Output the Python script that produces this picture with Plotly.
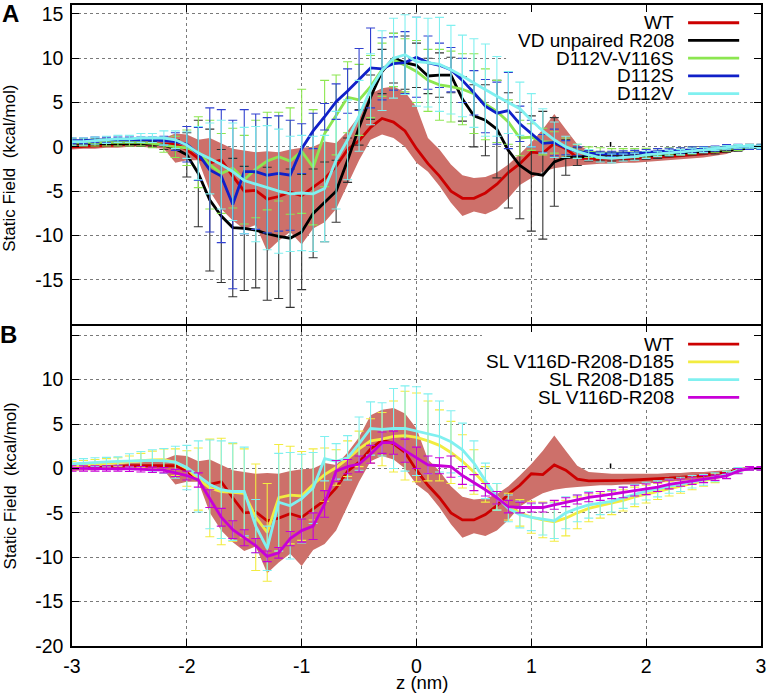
import plotly.graph_objects as go

# ---------------- data ----------------
Z = [-3.0, -2.9, -2.8, -2.7, -2.6, -2.5, -2.4, -2.3, -2.2, -2.1,
     -2.0, -1.9, -1.8, -1.7, -1.6, -1.5, -1.4, -1.3, -1.2, -1.1,
     -1.0, -0.9, -0.8, -0.7, -0.6, -0.5, -0.4, -0.3, -0.2, -0.1,
     0.0, 0.1, 0.2, 0.3, 0.4, 0.5, 0.6, 0.7, 0.8, 0.9,
     1.0, 1.1, 1.2, 1.3, 1.4, 1.5, 1.6, 1.7, 1.8, 1.9,
     2.0, 2.1, 2.2, 2.3, 2.4, 2.5, 2.6, 2.7, 2.8, 2.9, 3.0]

WT = [0.0, 0.05, 0.1, 0.1, 0.2, 0.3, 0.3, 0.35, 0.35, 0.3,
      -0.3, -1.3, -1.8, -1.5, -3.3, -5.0, -4.9, -5.9, -5.6, -5.1,
      -5.5, -4.6, -3.6, -2.2, -0.3, 0.7, 2.2, 3.2, 2.8, 1.8,
      -0.2, -1.9, -3.3, -5.0, -5.8, -5.8, -5.2, -4.2, -2.9, -1.9,
      -0.6, -0.7, 0.4, -0.2, -1.2, -1.4, -1.4, -1.4, -1.35, -1.3,
      -1.2, -1.15, -1.1, -1.0, -0.9, -0.8, -0.6, -0.5, -0.1, 0.0, 0.0]
WT_HI = [0.3, 0.3, 0.3, 0.4, 0.5, 0.6, 0.7, 0.8, 1.0, 1.5,
         1.4, 0.8, 1.0, 0.4, -0.2, -0.4, -0.6, -0.5, -0.6, -0.3,
         -0.1, 0.0, 0.6, 0.4, 1.8, 3.5, 6.0, 6.6, 6.8, 6.2,
         4.5, 1.0, -0.3, -2.0, -3.2, -3.5, -3.4, -2.9, -2.0, -0.8,
         0.5, 2.0, 3.7, 2.0, 0.3, -0.4, -0.5, -0.6, -0.6, -0.6,
         -0.6, -0.6, -0.5, -0.5, -0.4, -0.4, -0.3, -0.2, 0.0, 0.0, 0.0]
WT_LO = [-0.3, -0.2, -0.2, -0.1, -0.1, 0.0, 0.0, -0.1, -0.2, -1.8,
         -1.5, -1.5, -5.0, -7.0, -8.3, -9.3, -8.8, -11.8, -10.6, -9.6,
         -11.0, -9.2, -8.5, -7.0, -4.2, -1.5, 0.8, 1.4, 1.0, 0.0,
         -1.8, -2.8, -4.4, -6.3, -7.8, -7.3, -7.6, -7.0, -5.8, -4.3,
         -3.5, -2.8, -2.4, -2.2, -2.1, -2.0, -1.9, -1.9, -1.8, -1.8,
         -1.7, -1.6, -1.5, -1.4, -1.3, -1.2, -1.0, -0.8, -0.3, -0.1, 0.0]

# Panel A mutants
VD = [0.4, 0.4, 0.4, 0.4, 0.4, 0.4, 0.35, 0.3, 0.2, -0.2,
      -0.9, -3.0, -6.0, -7.8, -9.1, -9.2, -9.4, -9.8, -10.1, -10.3,
      -9.6, -7.5, -6.2, -5.0, -1.5, 2.2, 5.6, 8.5, 10.0, 9.5,
      9.2, 8.0, 8.1, 8.1, 5.4, 3.5, 3.0, 2.0, -0.4, -2.1,
      -3.0, -3.2, -1.7, -1.2, -1.1, -1.1, -1.1, -1.1, -1.1, -1.0,
      -1.0, -0.9, -0.8, -0.7, -0.6, -0.5, -0.5, -0.4, -0.3, -0.1, 0.0]
VD_ERR = [0.3, 0.3, 0.3, 0.3, 0.3, 0.3, 0.3, 0.3, 0.5, 1.0,
          2.5, 6.0, 8.0, 7.5, 7.8, 7.0, 6.5, 7.5, 7.0, 7.8,
          6.5, 5.0, 4.5, 3.5, 2.5, 2.0, 2.5, 2.5, 2.8, 3.0,
          2.5, 2.0, 2.5, 2.0, 2.5, 3.5, 4.0, 5.5, 6.5, 6.0,
          6.5, 7.2, 5.0, 2.0, 1.0, 0.5, 0.5, 0.5, 0.4, 0.4,
          0.4, 0.4, 0.3, 0.3, 0.3, 0.3, 0.3, 0.2, 0.2, 0.2, 0.2]

D112V_V116S = [0.5, 0.5, 0.5, 0.5, 0.5, 0.5, 0.5, 0.4, 0.2, 0.0,
               -0.1, -0.6, -2.0, -3.0, -2.4, -3.7, -2.5, -1.6, -1.1, -1.6,
               -0.5, -2.3, 1.5, 3.6, 5.6, 5.3, 6.8, 8.7, 9.8, 9.2,
               8.5, 7.5, 7.0, 6.8, 6.5, 6.0, 4.8, 4.0, 2.8, 1.0,
               1.1, 0.6, 0.5, 0.0, -0.5, -0.6, -0.7, -0.7, -0.7, -0.7,
               -0.65, -0.6, -0.5, -0.5, -0.4, -0.3, -0.3, -0.2, -0.1, 0.0, 0.0]
D112V_V116S_ERR = [0.4, 0.4, 0.4, 0.4, 0.4, 0.4, 0.4, 0.5, 0.8, 1.2,
                   2.0, 4.0, 5.0, 4.5, 4.5, 5.0, 5.5, 5.5, 5.0, 6.0,
                   7.0, 6.5, 6.0, 4.5, 4.0, 4.0, 3.5, 3.0, 3.0, 3.0,
                   3.5, 3.5, 4.0, 4.0, 4.0, 4.5, 4.0, 3.5, 2.5, 2.0,
                   1.5, 1.5, 1.2, 1.0, 0.8, 0.6, 0.6, 0.5, 0.5, 0.5,
                   0.5, 0.4, 0.4, 0.4, 0.4, 0.3, 0.3, 0.3, 0.3, 0.3, 0.3]

D112S = [0.7, 0.7, 0.8, 0.8, 0.8, 0.8, 0.8, 0.8, 0.7, 0.6,
         0.3, -0.8, -2.6, -3.3, -6.5, -2.8, -2.8, -3.2, -3.0, -3.2,
         -0.2, 1.8, 3.4, 5.1, 6.3, 7.6, 8.9, 8.8, 9.4, 9.5,
         10.1, 9.5, 9.2, 8.7, 7.5, 6.1, 4.6, 3.8, 4.1, 2.6,
         1.5, 0.4, 0.5, -0.1, -0.5, -0.7, -0.8, -0.8, -0.75, -0.7,
         -0.6, -0.5, -0.45, -0.4, -0.3, -0.25, -0.2, -0.05, 0.0, 0.0, 0.0]
D112S_ERR = [0.3, 0.3, 0.3, 0.3, 0.3, 0.3, 0.3, 0.3, 0.5, 1.0,
             2.0, 3.0, 7.0, 7.5, 9.5, 7.0, 6.5, 6.5, 6.5, 6.2,
             2.8, 2.0, 1.5, 2.0, 2.5, 3.5, 4.5, 3.5, 3.0, 3.5,
             4.5, 3.0, 2.5, 2.5, 2.5, 2.5, 3.0, 3.5, 4.3, 2.0,
             1.5, 1.0, 1.5, 0.8, 0.5, 0.3, 0.3, 0.3, 0.3, 0.3,
             0.3, 0.3, 0.3, 0.3, 0.3, 0.3, 0.3, 0.3, 0.3, 0.3, 0.3]

D112V = [0.6, 0.6, 0.7, 0.8, 0.9, 0.9, 1.0, 1.0, 1.0, 0.8,
         0.2, -0.7, -1.3, -2.0, -2.8, -3.8, -4.2, -4.6, -5.0, -5.3,
         -5.2, -5.3, -4.7, -1.5, 0.8, 3.5, 6.5, 8.6, 10.0, 10.4,
         9.6, 9.5, 9.3, 8.7, 8.0, 7.2, 6.4, 5.7, 5.0, 4.3,
         3.0, 1.8, 0.8, 0.0, -0.5, -0.9, -1.2, -1.3, -1.2, -1.1,
         -0.9, -0.8, -0.7, -0.6, -0.45, -0.35, -0.2, -0.05, 0.05, 0.05, 0.0]
D112V_ERR = [0.4, 0.4, 0.4, 0.4, 0.4, 0.4, 0.5, 0.5, 0.8, 1.0,
             1.5, 3.0, 4.0, 5.0, 5.5, 6.0, 6.5, 7.0, 7.0, 6.5,
             6.5, 6.5, 6.0, 5.5, 4.5, 4.0, 4.0, 4.5, 4.5, 4.5,
             5.0, 5.0, 5.3, 5.0, 4.6, 5.0, 5.2, 4.5, 3.5, 3.0,
             3.0, 2.5, 2.0, 1.2, 0.8, 0.6, 0.5, 0.5, 0.4, 0.4,
             0.4, 0.3, 0.3, 0.3, 0.3, 0.3, 0.2, 0.2, 0.2, 0.2, 0.2]

# Panel B mutants
SL_TRIPLE = [0.3, 0.4, 0.5, 0.6, 0.7, 0.8, 0.9, 0.95, 1.0, 0.7,
             0.0, -1.2, -2.2, -2.6, -2.7, -2.8, -5.5, -7.2, -3.3, -3.0,
             -3.1, -1.8, -0.7, 0.1, 1.1, 2.2, 3.1, 3.3, 3.6, 3.7,
             3.5, 3.1, 2.6, 1.8, 0.8, -0.4, -1.8, -3.2, -4.3, -5.0,
             -5.5, -5.8, -6.0, -5.6, -5.0, -4.5, -4.2, -3.9, -3.6, -3.2,
             -2.9, -2.6, -2.3, -2.0, -1.7, -1.4, -1.1, -0.7, -0.2, 0.0, 0.0]
SL_TRIPLE_ERR = [0.5, 0.5, 0.5, 0.5, 0.5, 0.6, 0.8, 1.0, 1.2, 1.5,
                 2.0, 3.5, 5.5, 6.0, 5.5, 5.0, 6.0, 5.5, 6.0, 5.5,
                 5.0, 4.0, 3.0, 2.0, 2.0, 2.0, 2.5, 3.0, 4.0, 5.0,
                 5.0, 4.5, 4.0, 3.5, 3.0, 2.5, 2.0, 1.5, 1.5, 1.5,
                 1.8, 2.0, 2.2, 2.0, 1.8, 1.5, 1.4, 1.3, 1.2, 1.1,
                 1.0, 0.9, 0.8, 0.8, 0.7, 0.6, 0.5, 0.4, 0.3, 0.2, 0.2]

SL_R208_D185 = [0.5, 0.6, 0.7, 0.75, 0.8, 0.85, 0.9, 0.9, 0.85, 0.7,
                0.1, -0.9, -1.8, -2.4, -2.6, -2.6, -6.5, -9.0, -3.8, -4.2,
                -3.4, -2.2, 1.1, 0.8, 1.2, 2.8, 4.5, 4.4, 4.5, 4.5,
                4.2, 3.9, 3.6, 3.0, 2.1, 0.6, -1.4, -3.2, -4.5, -5.2,
                -5.5, -5.7, -5.9, -5.0, -4.5, -4.1, -3.9, -3.7, -3.3, -2.9,
                -2.55, -2.3, -2.0, -1.8, -1.5, -1.3, -1.0, -0.7, -0.2, 0.0, 0.0]
SL_R208_D185_ERR = [0.5, 0.5, 0.5, 0.5, 0.5, 0.8, 1.0, 1.2, 1.4, 1.8,
                    2.5, 4.0, 5.0, 5.5, 5.5, 5.0, 3.0, 2.5, 5.5, 6.0,
                    5.0, 4.0, 2.5, 2.0, 2.5, 3.0, 3.0, 3.0, 4.5, 4.8,
                    5.0, 4.5, 4.0, 3.5, 3.0, 2.5, 2.0, 1.5, 1.5, 1.5,
                    1.5, 1.8, 2.0, 1.8, 1.5, 1.5, 1.3, 1.2, 1.2, 1.1,
                    1.0, 0.9, 0.8, 0.8, 0.7, 0.6, 0.5, 0.4, 0.3, 0.2, 0.2]

SL_V116D_R208 = [0.0, 0.0, 0.0, 0.0, 0.0, -0.05, -0.1, -0.15, -0.2, -0.5,
                 -0.8, -1.3, -3.4, -5.5, -6.9, -7.8, -8.7, -9.9, -9.5, -7.9,
                 -7.0, -6.5, -4.0, -0.3, 0.2, 0.5, 1.6, 2.9, 2.9, 2.0,
                 1.2, 0.4, 0.3, 0.2, -0.8, -1.6, -2.4, -3.3, -4.3, -4.4,
                 -4.4, -4.4, -4.1, -3.8, -3.5, -3.25, -3.1, -2.9, -2.7, -2.5,
                 -2.35, -2.1, -1.8, -1.6, -1.4, -1.2, -1.05, -0.85, -0.3, 0.0, 0.0]
SL_V116D_R208_ERR = [0.3, 0.3, 0.3, 0.3, 0.3, 0.3, 0.3, 0.3, 0.3, 0.4,
                     0.5, 0.8, 1.0, 1.0, 1.0, 0.9, 0.8, 0.6, 0.6, 0.8,
                     1.3, 1.5, 1.5, 1.2, 0.8, 0.9, 1.0, 1.2, 1.3, 1.3,
                     1.2, 1.0, 0.9, 1.2, 1.0, 0.9, 0.7, 0.7, 0.7, 0.6,
                     0.5, 0.5, 0.5, 0.5, 0.5, 0.5, 0.5, 0.5, 0.6, 0.6,
                     0.6, 0.5, 0.5, 0.4, 0.4, 0.4, 0.3, 0.3, 0.3, 0.2, 0.2]

# small stray error mark visible in both panels
STRAY_Z = [1.69]
STRAY_V = [0.28]
STRAY_ERR = [0.28]

Y_TICKS = [-20, -15, -10, -5, 0, 5, 10, 15]
Y_TEXT_A = ["", "-15", "-10", "-5", "0", "5", "10", "15"]
Y_TEXT_B = ["-20", "-15", "-10", "-5", "0", "5", "10", ""]
X_TICKS = [-3, -2, -1, 0, 1, 2, 3]
X_TEXT = ["-3", "-2", "-1", "0", "1", "2", "3"]

LEGEND_A = ["WT", "VD unpaired R208", "D112V-V116S", "D112S", "D112V"]
LEGEND_B = ["WT", "SL V116D-R208-D185", "SL R208-D185", "SL V116D-R208"]

# ---------------- styles ----------------
FONT = "Liberation Sans"
FS = 19.5
FS_LEG = 19
RED = "#cc0000"
BAND = "#cd706a"
BLACK = "#000000"
GREEN = "#8ce650"
BLUE = "#1020c8"
CYAN = "#80f0f0"
YELLOW = "#f2ec40"
MAGENTA = "#c800d8"
LW = 2.8

fig = go.Figure()


def add_band(xa, ya):
    fig.add_trace(go.Scatter(x=Z, y=WT_HI, mode="lines", line=dict(width=0, color=BAND),
                             xaxis=xa, yaxis=ya, hoverinfo="skip"))
    fig.add_trace(go.Scatter(x=Z, y=WT_LO, mode="lines", line=dict(width=0, color=BAND),
                             fill="tonexty", fillcolor=BAND, xaxis=xa, yaxis=ya, hoverinfo="skip"))


def add_series(y, err, color, ecolor, xa, ya, width=LW):
    kw = {}
    if err is not None:
        kw["error_y"] = dict(type="data", array=err, color=ecolor, thickness=1.1, width=4.5)
    fig.add_trace(go.Scatter(x=Z, y=y, mode="lines", line=dict(color=color, width=width),
                             xaxis=xa, yaxis=ya, **kw))


def add_stray(xa, ya):
    fig.add_trace(go.Scatter(x=STRAY_Z, y=STRAY_V, mode="markers", marker=dict(size=1, color=BLACK),
                             error_y=dict(type="data", array=STRAY_ERR, color=BLACK,
                                          thickness=1.5, width=0),
                             xaxis=xa, yaxis=ya, hoverinfo="skip"))


# Panel A
add_band("x", "y")
add_series(WT, None, RED, RED, "x", "y")
add_series(VD, VD_ERR, BLACK, "#333333", "x", "y")
add_series(D112V_V116S, D112V_V116S_ERR, GREEN, GREEN, "x", "y")
add_series(D112S, D112S_ERR, BLUE, "#3040d0", "x", "y")
add_series(D112V, D112V_ERR, CYAN, CYAN, "x", "y")
add_stray("x", "y")

# Panel B
add_band("x2", "y2")
add_series(WT, None, RED, RED, "x2", "y2")
add_series(SL_TRIPLE, SL_TRIPLE_ERR, YELLOW, YELLOW, "x2", "y2")
add_series(SL_R208_D185, SL_R208_D185_ERR, CYAN, CYAN, "x2", "y2")
add_series(SL_V116D_R208, SL_V116D_R208_ERR, MAGENTA, MAGENTA, "x2", "y2")
add_stray("x2", "y2")

axis_common = dict(
    showline=True, mirror="ticks", linecolor="black", linewidth=1.5,
    ticks="inside", ticklen=7, tickwidth=1, tickcolor="black",
    showgrid=True, gridcolor="#7a7a7a", griddash="dot", gridwidth=1,
    zeroline=False, tickfont=dict(family=FONT, size=FS, color="black"),
)

fig.update_layout(
    width=769, height=693,
    margin=dict(l=72, r=7, t=3, b=47),
    paper_bgcolor="white", plot_bgcolor="white",
    showlegend=False,
    font=dict(family=FONT, size=FS, color="black"),
    xaxis=dict(axis_common, range=[-3, 3], domain=[0, 1], anchor="y",
               tickvals=X_TICKS, ticktext=X_TEXT, showticklabels=False),
    yaxis=dict(axis_common, range=[-20, 16], domain=[0.502, 1], anchor="x",
               tickvals=Y_TICKS, ticktext=Y_TEXT_A, ticklabelstandoff=3),
    xaxis2=dict(axis_common, range=[-3, 3], domain=[0, 1], anchor="y2", matches="x",
                tickvals=X_TICKS, ticktext=X_TEXT, ticklabelstandoff=2),
    yaxis2=dict(axis_common, range=[-20, 16.1], domain=[0, 0.5], anchor="x2",
                tickvals=Y_TICKS, ticktext=Y_TEXT_B, ticklabelstandoff=3),
)

shapes = [
    dict(type="rect", xref="x", yref="y", x0=0.78, x1=2.96, y0=5.3, y1=15.95,
         fillcolor="white", line=dict(width=0), layer="between"),
    dict(type="rect", xref="x2", yref="y2", x0=0.57, x1=2.96, y0=6.6, y1=16.05,
         fillcolor="white", line=dict(width=0), layer="between"),
]
annotations = []

legA_colors = [RED, BLACK, GREEN, BLUE, CYAN]
legA_y = [14, 12, 10, 8, 6]
for name, col, yy in zip(LEGEND_A, legA_colors, legA_y):
    shapes.append(dict(type="line", xref="x", yref="y", x0=2.365, x1=2.81, y0=yy, y1=yy,
                       line=dict(color=col, width=LW), layer="above"))
    annotations.append(dict(xref="x", yref="y", x=2.26, y=yy, text=name, showarrow=False,
                            xanchor="right", yanchor="middle",
                            font=dict(family=FONT, size=FS_LEG, color="black")))

legB_colors = [RED, YELLOW, CYAN, MAGENTA]
legB_y = [14, 12, 10, 8]
for name, col, yy in zip(LEGEND_B, legB_colors, legB_y):
    shapes.append(dict(type="line", xref="x2", yref="y2", x0=2.365, x1=2.81, y0=yy, y1=yy,
                       line=dict(color=col, width=LW), layer="above"))
    annotations.append(dict(xref="x2", yref="y2", x=2.26, y=yy, text=name, showarrow=False,
                            xanchor="right", yanchor="middle",
                            font=dict(family=FONT, size=FS_LEG, color="black")))

# panel letters and axis titles
annotations += [
    dict(xref="paper", yref="paper", x=-0.0899, y=0.9863, text="<b>A</b>", showarrow=False,
         xanchor="center", yanchor="middle", font=dict(family=FONT, size=24, color="black")),
    dict(xref="paper", yref="paper", x=-0.0928, y=0.4855, text="<b>B</b>", showarrow=False,
         xanchor="center", yanchor="middle", font=dict(family=FONT, size=24, color="black")),
    dict(xref="paper", yref="paper", x=-0.0899, y=0.7445, text="Static Field  (kcal/mol)",
         showarrow=False, textangle=-90, xanchor="center", yanchor="middle",
         font=dict(family=FONT, size=17, color="black")),
    dict(xref="paper", yref="paper", x=-0.0899, y=0.249, text="Static Field  (kcal/mol)",
         showarrow=False, textangle=-90, xanchor="center", yanchor="middle",
         font=dict(family=FONT, size=17, color="black")),
    dict(xref="paper", yref="paper", x=0.508, y=-0.057, text="z (nm)", showarrow=False,
         xanchor="center", yanchor="middle", font=dict(family=FONT, size=18.5, color="black")),
]

fig.update_layout(shapes=shapes, annotations=annotations)
fig.write_html("out.html", config={"displayModeBar": False},
               post_script="document.body.style.margin='0';")
